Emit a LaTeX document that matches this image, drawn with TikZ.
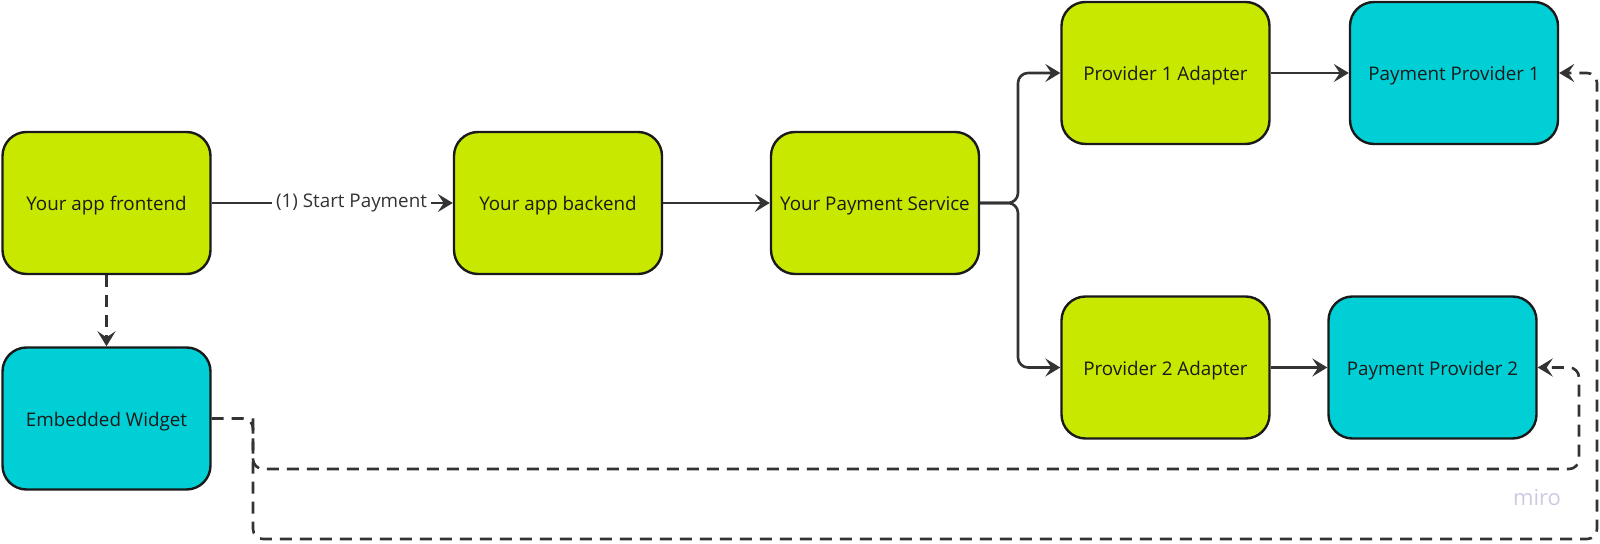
\documentclass[tikz,border=0pt]{standalone}
\usepackage{fontspec}
\setmainfont{Open Sans}
\usetikzlibrary{arrows.meta}

\definecolor{appgreen}{RGB}{201,232,0}
\definecolor{providercyan}{RGB}{0,208,214}
\definecolor{boxedge}{RGB}{26,26,26}
\definecolor{wire}{RGB}{51,51,51}
\definecolor{watermark}{RGB}{204,202,226}

\tikzset{
  ownbox/.style = {draw = boxedge, line width = 1.2pt, rounded corners = 12pt,
    minimum width = 104pt, minimum height = 71pt, text = boxedge,
    text height = 8pt, text depth = 0pt,
    font = \fontsize{9.4}{11}\selectfont},
  appbox/.style = {ownbox, fill = appgreen},
  extbox/.style = {ownbox, fill = providercyan},
  flow/.style = {draw = wire, line width = 1.3pt,
    -{Stealth[length = 7.5pt, width = 9pt, inset = 3pt]}},
  cbflow/.style = {flow, dash pattern = on 6pt off 4pt, rounded corners = 5pt}
}

\begin{document}
\begin{tikzpicture}[x = 0.5pt, y = -0.5pt]
        \useasboundingbox (0, 0) rectangle (1600, 544);

        \node[appbox] (front) at (106.5, 203) {Your app frontend};
        \node[extbox] (widget) at (106.5, 418.5) {Embedded Widget};
        \node[appbox] (back) at (558, 203) {Your app backend};
        \node[appbox] (service) at (875, 203) {Your Payment Service};
        \node[appbox] (adapt1) at (1165.5, 73) {Provider 1 Adapter};
        \node[appbox] (adapt2) at (1165.5, 367.5) {Provider 2 Adapter};
        \node[extbox] (prov1) at (1454, 73) {Payment Provider 1};
        \node[extbox] (prov2) at (1432.5, 367.5) {Payment Provider 2};

        \draw[flow] (front) -- node[pos = 0.58, fill = white, inner sep = 2pt,
          text = wire, font = \fontsize{9.4}{11}\selectfont] {(1) Start Payment} (back);
        \draw[flow] (back) -- (service);

        \foreach \a in {adapt1, adapt2} {
          \draw[flow, rounded corners = 5pt] (service.east) -- (1018, 203) |- (\a.west);
        }
        \draw[flow] (adapt1) -- (prov1);
        \draw[flow] (adapt2) -- (prov2);

        \draw[flow, dash pattern = on 6pt off 4pt] (front) -- (widget);

        \coordinate (split) at (253, 418.5);
        \draw[cbflow] (widget.east) -- (split) -- (253, 539) -- (1597, 539) |- (prov1.east);
        \draw[cbflow] (split) -- (253, 469) -- (1579, 469) |- (prov2.east);

        \node[text = watermark, font = \fontsize{11}{12}\selectfont] (miro) at (1537, 498) {miro};
\end{tikzpicture}
\end{document}
